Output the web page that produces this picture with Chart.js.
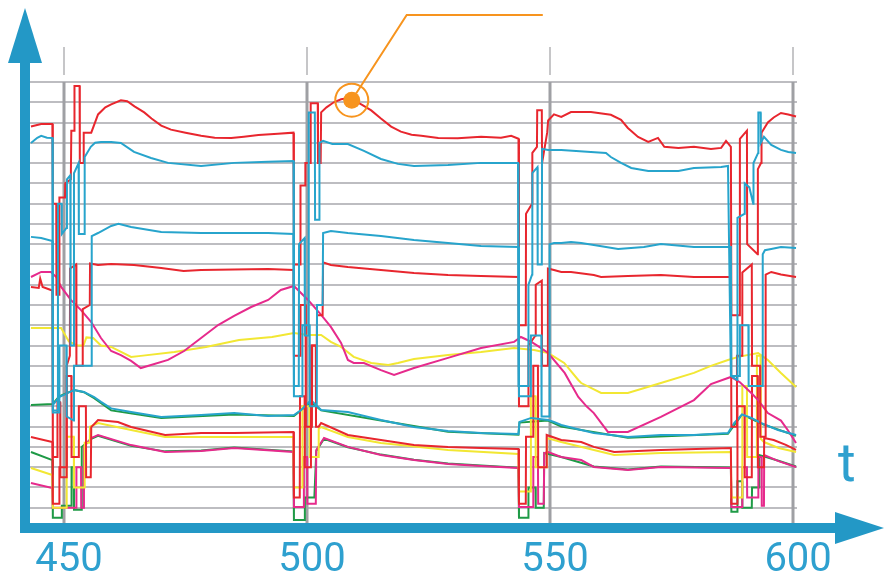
<!DOCTYPE html>
<html>
<head>
<meta charset="utf-8">
<script src="https://cdn.jsdelivr.net/npm/chart.js@4.4.0/dist/chart.umd.min.js"></script>
<style>
  html, body { margin: 0; padding: 0; background: #fff; }
</style>
</head>
<body>
<canvas id="tChart" width="884" height="580"></canvas>

<script>
// labels on the t axis
var tTicks = [450, 500, 550, 600]
// marked point and its leader line, in (t, value)
var markPoint = [509.2, 21.1]
var markElbow = [520.5, 25.3]
var markEnd = [548.5, 25.3]

// series, [t, value]
var red1 = [
  [443.2,19.8],[445.3,19.93],[447.6,19.93],
  [447.7,16.0],[448.4,16.0],[448.45,11.5],[449.0,11.5],[449.05,16.3],[450.2,16.3],[450.25,17.0],[451.4,17.2],[451.5,19.6],[452.1,19.6],[452.15,21.8],[453.2,21.8],[453.25,18.0],[454.0,18.0],[454.05,19.5],[455.6,19.5],[457.0,20.4],
  [458.5,20.75],[459.7,20.9],[461.7,21.1],[463.0,21.05],[464.5,20.8],[466.5,20.5],[468.0,20.2],[470.0,19.85],[472.0,19.65],[475.0,19.5],[478.2,19.35],[481.0,19.25],[484.4,19.24],[487.0,19.3],[490.0,19.38],[494.0,19.45],[497.2,19.5],
  [497.3,13.0],[498.6,13.0],[498.65,16.9],[499.6,16.9],[499.65,18.0],[500.7,18.0],[500.75,20.95],[502.2,20.95],[502.25,18.0],[502.8,18.0],[502.9,20.5],
  [504.0,20.75],[505.5,21.0],[507.0,21.15],[508.4,21.2],[510.0,21.05],[511.5,20.85],[513.2,20.6],[515.2,20.2],[517.3,19.8],[519.3,19.55],[521.5,19.4],[523.5,19.35],[527.0,19.24],[531.0,19.22],[535.8,19.3],[539.9,19.25],[542.0,19.35],[543.5,19.2],
  [543.6,10.0],[545.0,10.0],[545.05,15.5],[546.3,16.0],[546.35,18.5],[547.3,18.8],[547.35,20.6],[548.3,20.6],[548.35,18.0],[549.4,19.5],[549.6,20.1],
  [550.8,20.4],[552.3,20.28],[554.3,20.52],[558.4,20.52],[562.5,20.38],[564.6,20.13],[566.0,19.73],[568.1,19.29],[570.2,19.04],[572.2,19.24],[573.5,18.8],[576.4,18.75],[579.6,18.8],[583.1,18.7],[585.2,18.75],[586.2,19.09],[587.2,18.8],
  [587.3,10.5],[589.0,10.5],[589.05,19.2],[590.5,19.6],[590.55,14.0],[592.7,13.5],[592.75,17.7],[593.4,18.0],[593.5,19.5],[594.8,20.0],[596.0,20.25],[597.5,20.47],[599.0,20.4],[600.6,20.3]
]
var cyan1 = [
  [443.2,18.99],[444.5,19.25],[445.3,19.34],[446.5,19.25],[447.6,19.24],
  [447.7,5.8],[448.7,5.8],[448.75,16.0],[449.5,16.0],[449.55,14.5],[450.5,14.8],[450.6,17.2],[451.3,17.4],[451.35,9.0],[452.0,9.0],[452.05,17.5],[453.0,18.0],[453.05,14.5],[454.2,14.5],[454.25,18.3],[455.5,18.8],[456.4,19.0],
  [457.6,19.04],[459.7,19.04],[461.7,18.99],[464.4,18.55],[467.9,18.25],[471.4,18.01],[478.2,17.86],[485.0,18.01],[492.0,18.06],[497.2,18.1],
  [497.3,7.0],[498.3,7.0],[498.35,14.0],[499.5,14.3],[499.55,9.5],[500.3,9.5],[500.35,20.5],[501.6,20.5],[501.65,15.2],[502.5,15.2],[502.55,19.0],[503.3,19.1],
  [505.2,18.94],[508.4,18.94],[511.7,18.6],[515.2,18.2],[518.7,17.96],[522.0,17.86],[529.0,17.91],[535.8,18.01],[543.4,18.01],
  [543.5,7.0],[545.5,7.0],[545.55,12.0],[546.3,12.5],[546.35,17.5],[547.4,17.8],[547.45,13.0],[548.3,13.0],[548.35,18.7],[549.6,18.65],
  [552.3,18.65],[558.4,18.55],[561.5,18.5],[562.5,18.3],[564.6,18.01],[566.7,17.76],[570.2,17.61],[576.4,17.61],[579.6,17.76],[585.2,17.81],[586.6,17.86],
  [587.2,7.5],[588.5,7.3],[588.55,15.3],[590.0,15.5],[590.05,17.0],[591.0,16.8],[591.8,16.0],[591.85,18.0],[592.8,18.5],[592.85,20.5],[593.3,20.5],[593.35,19.0],[594.0,19.3],[595.5,18.9],[597.5,18.65],[599.0,18.55],[600.6,18.5]
]
var cyan2 = [
  [443.2,14.36],[445.3,14.3],[447.6,14.16],
  [447.7,5.7],[449.0,5.7],[449.05,9.0],[450.5,9.0],[450.55,5.5],[452.0,5.3],[452.05,8.0],[455.6,8.0],[455.7,14.4],[457.0,14.55],
  [459.7,14.9],[461.2,15.0],[463.8,14.85],[470.0,14.6],[478.2,14.55],[485.0,14.55],[492.0,14.55],[497.2,14.5],
  [497.3,6.5],[499.0,6.5],[499.05,10.0],[500.5,10.0],[500.55,6.0],[502.0,6.0],[502.05,11.0],[503.2,11.0],[503.3,14.55],
  [504.9,14.65],[508.4,14.55],[515.2,14.4],[522.0,14.21],[529.0,14.06],[535.8,13.91],[543.5,13.86],
  [543.6,6.5],[546.0,6.5],[546.05,9.5],[548.2,9.5],[548.25,5.5],[549.8,5.5],[549.9,14.0],
  [550.8,14.06],[552.3,14.06],[554.3,14.11],[556.4,14.06],[559.0,13.96],[564.0,13.76],[569.3,13.86],[572.8,14.01],[579.6,13.86],[587.2,13.86],
  [587.3,7.5],[589.0,7.5],[589.05,10.0],[590.8,10.0],[590.85,7.0],[593.7,7.0],[593.75,13.5],[594.2,13.7],[595.5,13.76],[597.5,13.86],[600.6,13.81]
]
var red2 = [
  [443.2,11.89],[444.8,11.84],[445.1,12.3],[445.6,11.89],[447.3,11.74],[447.6,11.7],
  [447.7,3.5],[448.6,3.5],[448.65,6.2],[449.2,6.2],[449.25,2.5],[450.5,2.5],[450.55,8.0],[451.2,8.5],[451.25,12.8],[452.5,13.0],[452.55,8.0],[453.8,8.0],[453.85,10.8],[455.3,11.0],[455.35,13.05],[457.0,12.97],
  [459.7,13.02],[464.4,12.97],[470.0,12.83],[474.6,12.68],[478.2,12.73],[485.0,12.75],[492.0,12.78],[497.2,12.73],
  [497.3,8.5],[498.6,8.5],[498.65,11.0],[499.7,11.0],[499.75,5.0],[501.0,5.0],[501.05,9.0],[502.0,9.0],[502.05,10.5],[503.2,10.5],[503.3,13.1],
  [504.9,12.97],[508.4,12.87],[515.2,12.73],[522.0,12.58],[529.0,12.48],[535.8,12.43],[543.5,12.38],
  [543.6,6.0],[545.5,6.0],[545.55,9.0],[547.0,9.5],[547.05,12.0],[548.3,12.2],[548.35,8.0],[549.5,8.0],[549.55,12.8],[550.8,12.73],
  [552.3,12.63],[554.3,12.63],[559.0,12.48],[560.5,12.38],[566.0,12.43],[572.8,12.48],[579.6,12.38],[587.2,12.38],
  [587.3,5.0],[588.4,5.0],[588.45,8.5],[589.5,8.5],[589.55,12.6],[591.5,13.0],[591.55,8.0],[593.2,8.0],[593.25,4.5],[594.3,4.5],[594.35,12.5],[595.5,12.63],[597.5,12.5],[600.6,12.38]
]
var magenta1 = [
  [443.2,12.38],[445.3,12.63],[447.3,12.63],[448.4,12.38],[449.4,11.89],[451.4,11.25],[453.5,10.75],[455.6,10.16],[457.6,9.37],[459.7,8.73],[461.7,8.53],[463.8,8.24],[465.8,7.89],[467.9,8.04],[471.4,8.29],[474.7,8.73],[478.2,9.37],[481.7,10.01],[485.0,10.46],[488.5,10.9],[492.0,11.25],[494.6,11.74],[497.3,11.94],
  [500.2,11.25],[502.9,10.51],[504.9,9.92],[507.0,9.13],[508.4,8.29],[509.6,8.14],[511.7,8.14],[515.2,7.79],[517.9,7.55],[522.0,7.89],[529.0,8.39],[535.8,8.88],[542.6,9.18],[544.0,9.42],
  [546.0,9.2],[548.0,8.9],[549.6,8.63],[553.0,7.65],[555.8,6.46],[557.5,6.0],[559.0,5.67],[561.9,4.74],[566.0,4.74],[572.8,5.48],[579.6,6.31],[583.1,7.1],[587.2,7.45],
  [589.0,7.2],[591.4,6.66],[592.8,6.31],[594.8,5.67],[597.5,5.3],[599.0,4.8],[600.6,4.19]
]
var yellow1 = [
  [443.2,9.87],[449.4,9.87],[451.0,9.2],[452.8,9.0],[454.0,9.0],[454.6,9.4],[456.0,9.37],[457.6,9.0],[459.7,8.93],[463.8,8.44],[465.8,8.49],[472.7,8.68],[479.2,8.93],[486.0,9.27],[492.8,9.42],[497.3,9.62],
  [500.2,9.52],[502.9,9.52],[504.9,9.18],[507.0,8.93],[509.6,8.44],[513.2,8.14],[516.7,8.04],[518.7,8.14],[522.0,8.34],[529.0,8.53],[535.8,8.68],[542.6,8.88],[546.7,8.78],[549.6,8.63],
  [552.9,8.14],[555.8,7.3],[556.4,7.15],[560.5,6.66],[566.0,6.66],[572.8,7.15],[579.6,7.65],[583.1,8.0],[586.6,8.29],[588.7,8.44],[592.8,8.63],[594.8,8.29],[597.5,7.65],[600.6,6.96]
]
var cyan3 = [
  [447.8,6.1],[449.0,6.46],[452.1,6.81],[454.1,6.71],[456.2,6.46],[457.6,6.22],[459.7,5.9],[463.8,5.72],[470.0,5.48],[478.2,5.57],[485.0,5.67],[492.0,5.53],[497.3,5.57],
  [498.8,5.82],[500.8,6.31],[502.9,5.82],[508.4,5.72],[515.2,5.33],[522.0,4.98],[529.0,4.79],[535.8,4.69],[543.5,4.64],
  [543.7,5.23],[546.1,5.43],[549.6,5.33],[550.8,5.23],[552.3,5.08],[556.4,4.83],[559.0,4.69],[566.0,4.49],[572.8,4.59],[579.6,4.59],[586.6,4.69],
  [587.9,5.18],[589.5,5.6],[591.4,5.43],[593.4,5.18],[596.9,4.83],[600.6,4.59]
]
var green1 = [
  [443.2,6.07],[447.7,6.12],[449.0,6.5],[452.1,6.81],[454.1,6.7],[456.2,6.4],[459.7,5.8],[470.0,5.43],[485.0,5.6],[497.3,5.52],[500.8,6.2],[502.9,5.8],
  [515.2,5.3],[529.0,4.75],[543.5,4.6],[543.7,5.2],[549.6,5.3],[552.3,5.0],[566.0,4.45],[586.6,4.65],[589.5,5.6],[593.4,5.15],[600.6,4.55]
]
var red3 = [
  [443.2,4.49],[447.6,4.24],
  [447.7,1.2],[449.0,1.2],[449.05,3.0],[450.5,3.0],[450.55,7.5],[451.5,7.5],[451.55,3.5],[453.0,3.5],[453.05,6.0],[454.5,6.0],[454.55,2.5],[455.5,2.5],[455.6,4.98],
  [457.0,5.33],[461.1,5.23],[463.8,4.98],[470.8,4.59],[478.2,4.69],[485.0,4.69],[497.2,4.74],
  [497.3,1.5],[498.5,1.5],[498.55,6.5],[499.5,6.5],[499.55,3.0],[500.8,3.0],[500.85,9.0],[501.8,9.0],[501.85,5.0],[502.4,5.0],[502.9,5.18],
  [508.4,4.59],[515.2,4.34],[522.0,4.09],[529.0,4.0],[535.8,3.95],[543.5,3.9],
  [543.6,1.2],[545.0,1.2],[545.05,4.5],[546.5,4.5],[546.55,8.0],[547.5,8.0],[547.55,3.0],[549.2,3.0],[549.3,4.59],
  [552.3,4.34],[556.4,4.24],[559.0,4.0],[563.2,3.75],[572.8,3.85],[587.2,3.95],
  [587.3,1.2],[588.5,1.2],[588.55,6.0],[590.0,6.0],[590.05,2.5],[591.5,2.5],[591.55,7.5],[592.7,7.5],[592.75,3.0],[594.0,3.0],[594.05,4.44],[596.0,4.34],[598.5,4.1],[600.6,3.85]
]
var yellow2 = [
  [443.2,2.96],[447.6,2.61],
  [447.7,1.0],[450.5,1.0],[450.55,4.5],[452.0,4.5],[452.05,2.0],[454.2,2.0],[454.25,4.2],[455.3,4.2],[455.35,5.0],
  [457.0,5.18],[463.8,4.83],[470.8,4.49],[478.2,4.49],[497.2,4.49],
  [497.3,2.0],[499.0,2.0],[499.05,6.0],[500.5,6.0],[500.55,3.5],[502.3,3.5],[502.4,4.9],
  [502.9,4.98],[508.4,4.49],[515.2,4.19],[529.0,3.85],[543.5,3.65],
  [543.6,1.8],[546.0,1.8],[546.05,6.5],[547.0,6.5],[547.05,3.0],[549.3,3.0],[549.35,4.44],
  [552.3,4.24],[563.2,3.6],[572.8,3.7],[587.2,3.75],
  [587.3,1.5],[589.5,1.5],[589.55,7.0],[590.5,7.0],[590.55,3.5],[592.5,3.5],[592.55,8.5],[593.3,8.5],[593.35,4.4],[594.0,4.24],[597.0,3.95],[600.6,3.75]
]
var magenta2 = [
  [443.2,2.22],[447.6,1.97],
  [447.7,1.0],[452.5,1.0],[452.55,3.0],[453.5,3.0],[453.55,1.0],[454.0,1.0],[454.1,4.0],[455.6,4.44],
  [457.0,4.59],[463.8,4.09],[470.8,3.75],[478.2,3.8],[485.0,3.95],[497.2,3.75],
  [497.3,1.04],[499.3,1.04],[499.35,3.5],[500.0,3.5],[500.05,1.2],[501.8,1.2],[501.9,3.85],
  [503.5,4.44],[508.4,4.0],[515.2,3.6],[522.0,3.35],[529.0,3.16],[535.8,3.06],[543.5,2.96],
  [543.6,1.04],[546.5,1.04],[546.55,3.5],[547.5,3.5],[547.55,1.2],[548.7,1.2],[548.8,3.7],
  [549.6,3.75],[552.3,3.5],[556.4,3.35],[559.0,3.01],[566.0,2.86],[572.8,3.01],[587.2,2.96],
  [587.3,1.04],[589.5,1.04],[589.55,3.0],[590.5,3.0],[590.55,1.5],[592.8,1.5],[592.85,3.5],[593.5,3.5],[593.55,1.1],[594.0,1.1],[594.05,3.6],[597.0,3.3],[600.6,3.01]
]
var green2 = [
  [443.2,3.75],[447.6,3.35],
  [447.7,0.5],[449.5,0.5],[449.55,1.1],[451.5,1.1],[451.55,3.0],[452.0,3.0],[452.05,0.9],[453.6,0.9],[453.65,4.0],[455.6,4.4],
  [457.0,4.55],[463.8,4.05],[470.8,3.78],[478.2,3.82],[485.0,3.97],[497.2,3.78],
  [497.3,0.4],[499.5,0.4],[499.55,1.5],[501.5,1.5],[501.9,3.8],[503.5,4.4],[508.4,3.98],[515.2,3.62],[522.0,3.37],[529.0,3.18],[535.8,3.08],[543.5,2.98],
  [543.6,0.5],[545.5,0.5],[545.55,2.0],[547.0,2.0],[547.05,1.0],[548.7,1.0],[548.8,3.7],[552.3,3.5],[559.0,3.03],[566.0,2.88],[572.8,3.03],[587.2,2.98],
  [587.3,0.8],[588.5,0.8],[588.55,2.3],[589.5,2.3],[589.55,1.0],[591.5,1.0],[591.55,2.0],[593.0,2.0],[593.05,3.6],[597.0,3.32],[600.6,3.03]
]
</script>

<script>
var AXIS_BLUE = '#2398c6'
var RED = '#e8262e', CYAN = '#27a4cc', MAGENTA = '#e62a8c', YELLOW = '#f2e733', GREEN = '#1e9a46'

function line(data, color) {
  return { data: data, borderColor: color, borderWidth: 2, pointRadius: 0, tension: 0, fill: false }
}

// gray t marks, blue arrows, "t", orange marker
var decor = {
  id: 'decor',
  beforeDatasetsDraw: function(chart) {
    var ctx = chart.ctx, a = chart.chartArea
    var xs = chart.scales.x, ys = chart.scales.y
    var top = ys.getPixelForValue(22)
    ctx.save()
    tTicks.forEach(function(t) {
      var px = Math.round(xs.getPixelForValue(t))
      ctx.strokeStyle = '#c6c6c8'
      ctx.lineWidth = 2
      ctx.beginPath(); ctx.moveTo(px, top - 35); ctx.lineTo(px, top - 7); ctx.stroke()
      ctx.strokeStyle = '#9fa0a4'
      ctx.lineWidth = 3
      ctx.beginPath(); ctx.moveTo(px, top); ctx.lineTo(px, a.bottom); ctx.stroke()
    })
    ctx.restore()
  },
  afterDraw: function(chart) {
    var ctx = chart.ctx, a = chart.chartArea
    var xs = chart.scales.x, ys = chart.scales.y
    ctx.save()
    ctx.fillStyle = AXIS_BLUE
    // y arrow
    ctx.fillRect(a.left - 10, 62, 10, a.bottom + 5 - 62)
    ctx.beginPath()
    ctx.moveTo(a.left - 22, 63); ctx.lineTo(a.left - 5, 8); ctx.lineTo(a.left + 12, 63)
    ctx.closePath(); ctx.fill()
    // t arrow
    ctx.fillRect(a.left - 10, a.bottom - 5, 836 - a.left + 10, 10)
    ctx.beginPath()
    ctx.moveTo(835, a.bottom - 16); ctx.lineTo(884, a.bottom); ctx.lineTo(835, a.bottom + 16)
    ctx.closePath(); ctx.fill()
    ctx.font = '54px Roboto'
    ctx.fillStyle = '#2ea0cf'
    ctx.textBaseline = 'alphabetic'
    ctx.fillText('t', 838, 481)

    // marker
    var cx = xs.getPixelForValue(markPoint[0]), cy = ys.getPixelForValue(markPoint[1])
    var ex = xs.getPixelForValue(markElbow[0]), ey = ys.getPixelForValue(markElbow[1])
    var fx = xs.getPixelForValue(markEnd[0]), fy = ys.getPixelForValue(markEnd[1])
    var ang = Math.atan2(ey - cy, ex - cx)
    ctx.strokeStyle = '#f7941e'
    ctx.fillStyle = '#f7941e'
    ctx.lineWidth = 2
    ctx.beginPath()
    ctx.moveTo(cx + Math.cos(ang) * 8, cy + Math.sin(ang) * 8)
    ctx.lineTo(ex, ey); ctx.lineTo(fx, fy)
    ctx.stroke()
    ctx.beginPath(); ctx.arc(cx, cy, 16.5, 0, Math.PI * 2); ctx.stroke()
    ctx.beginPath(); ctx.arc(cx, cy, 8.5, 0, Math.PI * 2); ctx.fill()
    ctx.restore()
  }
}

var tChart = new Chart(document.getElementById('tChart'), {
  type: 'line',
  data: {
    datasets: [
      line(cyan1, CYAN), line(cyan2, CYAN), line(red1, RED), line(red2, RED),
      line(cyan3, CYAN), line(magenta1, MAGENTA), line(yellow1, YELLOW),
      line(red3, RED), line(yellow2, YELLOW), line(magenta2, MAGENTA),
      line(green1, GREEN), line(green2, GREEN)
    ]
  },
  options: {
    responsive: false,
    animation: false,
    devicePixelRatio: 1,
    layout: { padding: { left: 30, right: 87, top: 9, bottom: 0 } },
    plugins: { legend: { display: false }, tooltip: { enabled: false } },
    scales: {
      x: {
        type: 'linear', min: 443, max: 600.8,
        grid: { display: false, drawTicks: false },
        border: { display: false },
        afterBuildTicks: function(s) { s.ticks = tTicks.map(function(v) { return { value: v } }) },
        afterFit: function(s) { s.height = 52 },
        ticks: {
          color: '#2ea0cf', padding: 13, labelOffset: 5, maxRotation: 0, autoSkip: false,
          font: { family: 'Roboto', size: 40, lineHeight: 1 }
        }
      },
      y: {
        min: 0, max: 25.6,
        afterFit: function(s) { s.width = 0 },
        border: { display: false },
        grid: {
          drawTicks: false, lineWidth: 2,
          color: function(c) { return (c.tick && c.tick.value >= 1 && c.tick.value <= 22) ? '#bdbdc1' : 'rgba(0,0,0,0)' }
        },
        ticks: { display: false, stepSize: 1 }
      }
    }
  },
  plugins: [decor]
})
</script>
</body>
</html>
